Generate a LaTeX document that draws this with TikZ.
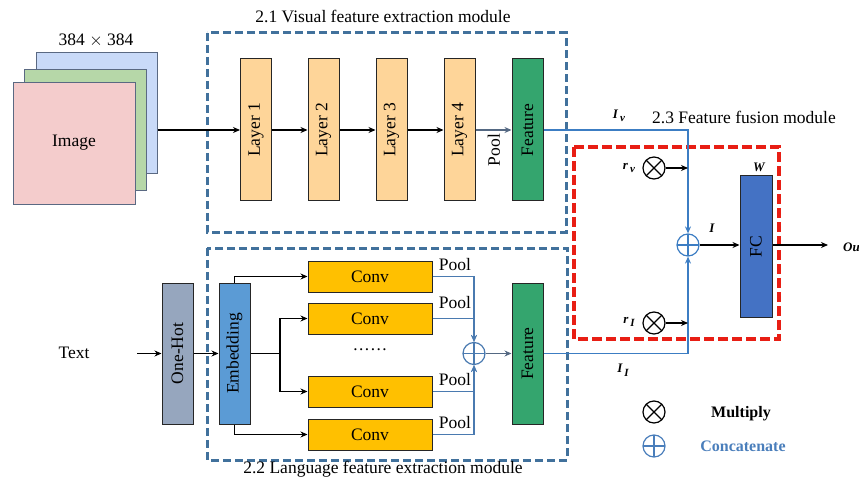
\documentclass[tikz,border=0pt]{standalone}
\usepackage{fontspec}
\setmainfont{Liberation Serif}
\usetikzlibrary{arrows.meta}

\definecolor{modblue}{RGB}{65,113,156}
\definecolor{fusered}{RGB}{232,30,20}
\definecolor{flowblue}{RGB}{60,125,195}
\definecolor{mergeblue}{RGB}{74,122,176}
\definecolor{greyarrow}{RGB}{84,104,130}
\definecolor{catblue}{RGB}{74,126,187}
\definecolor{layerfill}{RGB}{254,213,153}
\definecolor{featfill}{RGB}{52,165,110}
\definecolor{onehotfill}{RGB}{150,166,190}
\definecolor{embedfill}{RGB}{91,155,213}
\definecolor{convfill}{RGB}{255,192,0}
\definecolor{fcfill}{RGB}{68,114,196}
\definecolor{chanB}{RGB}{201,218,248}
\definecolor{chanG}{RGB}{182,215,168}
\definecolor{chanR}{RGB}{244,204,204}
\definecolor{chanedge}{RGB}{90,105,130}

\newcommand{\lowsub}[1]{\raisebox{-3.5pt}{\fontsize{11}{12}\selectfont #1}}

\tikzset{
  lbl/.style={font=\fontsize{17.5}{19}\selectfont, inner sep=1pt},
  title/.style={font=\fontsize{17.5}{19}\selectfont, inner sep=1pt},
  tag/.style={font=\fontsize{13}{15}\selectfont\bfseries\itshape, inner sep=1pt},
  vbox/.style={draw=black!85, line width=1pt, minimum width=31pt, minimum height=142pt, inner sep=0pt},
  convbox/.style={draw=black!85, line width=1pt, fill=convfill, minimum width=124pt, minimum height=31pt, inner sep=0pt, font=\fontsize{17.5}{19}\selectfont},
  chan/.style={draw=chanedge, line width=1pt, inner sep=0pt},
  modbox/.style={draw=modblue, line width=3pt, dash pattern=on 8pt off 4pt},
  fusebox/.style={draw=fusered, line width=3.5pt, dash pattern=on 10pt off 4pt},
  arr/.style={line width=1.2pt, -{Stealth[length=7pt,width=6pt]}},
  blueln/.style={draw=flowblue, line width=1.2pt},
  mergeln/.style={draw=mergeblue, line width=1.2pt},
  mult/.style={circle, draw=black, line width=1.2pt, minimum size=22pt, inner sep=0pt,
    path picture={\draw[line width=1.2pt] (path picture bounding box.north west) -- (path picture bounding box.south east)
      (path picture bounding box.north east) -- (path picture bounding box.south west);}},
  concat/.style={circle, draw=#1, line width=1.2pt, minimum size=22pt, inner sep=0pt,
    path picture={\draw[#1, line width=1.2pt] (path picture bounding box.north) -- (path picture bounding box.south)
      (path picture bounding box.west) -- (path picture bounding box.east);}},
}

\begin{document}
\begin{tikzpicture}[x=1pt, y=-1pt]
\useasboundingbox (0,0) rectangle (859,481);

% input image as three stacked channels
\node[chan, fill=chanB, minimum width=121pt, minimum height=121pt] (imgB) at (96.5,113.5) {};
\node[chan, fill=chanG, minimum width=122pt, minimum height=121pt] (imgG) at (85,130.5) {};
\node[chan, fill=chanR, minimum width=122pt, minimum height=122pt] (imgR) at (74,144) {};
\node[lbl] (imglbl) at (74,143) {Image};
\node[lbl] (imgsize) at (96,40) {384 $\times$ 384};

% visual feature extraction module
\draw[modbox] (207,33) rectangle (566,232);
\node[title] (vistitle) at (383,16) {2.1 Visual feature extraction module};
\node[vbox, fill=layerfill, label={[lbl, rotate=90]center:Layer 1}] (L1) at (256,130) {};
\node[vbox, fill=layerfill, label={[lbl, rotate=90]center:Layer 2}] (L2) at (323.5,130) {};
\node[vbox, fill=layerfill, label={[lbl, rotate=90]center:Layer 3}] (L3) at (391.5,130) {};
\node[vbox, fill=layerfill, label={[lbl, rotate=90]center:Layer 4}] (L4) at (459.5,130) {};
\node[vbox, fill=featfill, label={[lbl, rotate=90]center:Feature}] (F1) at (527.5,130) {};
\node[lbl, rotate=90] (vpool) at (494,150) {Pool};

\draw[arr] (imgB.east |- L1.west) -- (L1.west);
\draw[arr] (L1.east) -- (L2.west);
\draw[arr] (L2.east) -- (L3.west);
\draw[arr] (L3.east) -- (L4.west);
\draw[arr, greyarrow] (L4.east) -- (F1.west);

% language feature extraction module
\draw[modbox] (207,248) rectangle (567,460);
\node[title] (langtitle) at (383,469) {2.2 Language feature extraction module};
\node[lbl] (textlbl) at (74,353) {Text};
\coordinate (textout) at (137,353.5);
\node[vbox, fill=onehotfill, minimum height=141pt, label={[lbl, rotate=90]center:One-Hot}] (OH) at (177.5,353.5) {};
\node[vbox, fill=embedfill, minimum height=141pt, label={[lbl, rotate=90]center:Embedding}] (EM) at (234.5,353.5) {};
\node[vbox, fill=featfill, minimum height=141pt, label={[lbl, rotate=90]center:Feature}] (F2) at (527.5,353.5) {};

\node[convbox] (C1) at (370,276.5) {Conv};
\node[convbox] (C2) at (370,318.5) {Conv};
\node[convbox] (C3) at (370,391.5) {Conv};
\node[convbox] (C4) at (370,434.5) {Conv};
\node[lbl] (dots) at (370,352) {\textperiodcentered\textperiodcentered\textperiodcentered\textperiodcentered\textperiodcentered\textperiodcentered};

\node[lbl] (P1) at (455,265) {Pool};
\node[lbl] (P2) at (455,303) {Pool};
\node[lbl] (P3) at (455,380) {Pool};
\node[lbl] (P4) at (455,423) {Pool};

\node[concat=mergeblue] (cat2) at (474,353.5) {};

\draw[arr] (textout) -- (OH.west);
\draw[arr] (OH.east) -- (EM.west);
\draw[arr] (EM.north) |- (C1.west);
\draw[arr] (EM.south) |- (C4.west);
\coordinate (branch) at (280,353.5);
\draw[line width=1.2pt] (EM.east) -- (branch);
\draw[arr] (branch) |- (C2.west);
\draw[arr] (branch) |- (C3.west);

\draw[mergeln, arr] (C1.east) -| (cat2.north);
\draw[mergeln, arr] (C2.east) -| (cat2.north);
\draw[mergeln, arr] (C4.east) -| (cat2.south);
\draw[mergeln, arr] (C3.east) -| (cat2.south);
\draw[arr, greyarrow] (cat2.east) -- (F2.west);

% feature fusion module
\draw[fusebox] (574,147) rectangle (779,339);
\node[title] (fusetitle) at (744,117) {2.3 Feature fusion module};
\node[concat=flowblue] (cat) at (688,245) {};
\node[mult] (rv) at (654,168) {};
\node[mult] (rl) at (654,323) {};
\node[vbox, fill=fcfill, minimum width=32pt, minimum height=141pt, label={[lbl, rotate=90]center:FC}] (FC) at (756,246.5) {};
\coordinate (out) at (828,245);

\node[tag] (Iv) at (619,116) {I\,\lowsub{v}};
\node[tag] (Il) at (623,370) {I\,\lowsub{I}};
\node[tag] (rvl) at (629,168) {r\,\lowsub{v}};
\node[tag] (rll) at (629,322) {r\,\lowsub{I}};
\node[tag] (Ilbl) at (712,228) {I};
\node[tag] (Wlbl) at (759,167) {W};
\node[tag, anchor=west] (outlbl) at (842,247) {Ou};

\draw[blueln, arr, draw=flowblue] (F1.east) -| (cat.north);
\draw[blueln, arr, draw=flowblue] (F2.east) -| (cat.south);
\draw[arr] (rv.east) -- (cat.north |- rv.east);
\draw[arr] (rl.east) -- (cat.south |- rl.east);
\draw[arr] (cat.east) -- (FC.west |- cat.east);
\draw[arr] (FC.east |- out) -- (out);

% legend
\node[mult] (legmult) at (654,412) {};
\node[concat=catblue] (legcat) at (654,446) {};
\node[font=\fontsize{16}{18}\selectfont\bfseries] (legmultlbl) at (741,414) {Multiply};
\node[font=\fontsize{16}{18}\selectfont\bfseries, text=catblue] (legcatlbl) at (743,446) {Concatenate};
\end{tikzpicture}
\end{document}
